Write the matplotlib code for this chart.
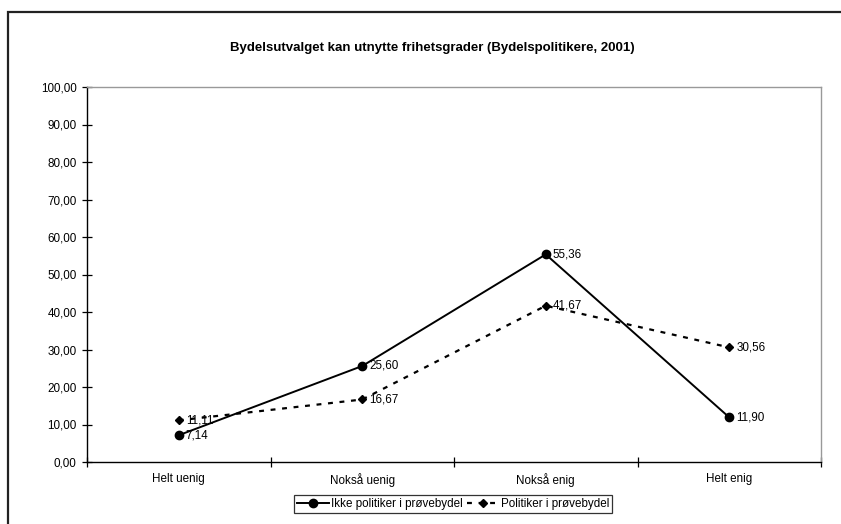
import matplotlib
matplotlib.use("Agg")
import matplotlib.pyplot as plt
from matplotlib.patches import Rectangle

categories = ["Helt uenig", "Nokså uenig", "Nokså enig", "Helt enig"]
ikke_politiker = [7.14, 25.60, 55.36, 11.90]
politiker = [11.11, 16.67, 41.67, 30.56]
series_names = ["Ikke politiker i prøvebydel", "Politiker i prøvebydel"]
title = "Bydelsutvalget kan utnytte frihetsgrader (Bydelspolitikere, 2001)"
yticks = [0, 10, 20, 30, 40, 50, 60, 70, 80, 90, 100]

plt.rcParams['font.family'] = ['Liberation Sans', 'DejaVu Sans']

FS = 8.4
W, H = 841, 524
fig = plt.figure(figsize=(W / 100, H / 100), dpi=100)
ax = fig.add_axes([87 / W, 1 - 462 / H, (821 - 87) / W, (462 - 87) / H])

xs = [i + 0.5 for i in range(len(categories))]

l1, = ax.plot(xs, ikke_politiker, color='black', lw=1.4, marker='o', markersize=6,
              label=series_names[0], zorder=3)
l2, = ax.plot(xs, politiker, color='black', lw=1.6, dashes=(2.2, 3.0), marker='D',
              markersize=4.5, label=series_names[1], zorder=3)

def fmt(v):
    return f"{v:.2f}".replace('.', ',')

for x, v in zip(xs, ikke_politiker):
    ax.annotate(fmt(v), (x, v), xytext=(5, 0), textcoords='offset points',
                va='center', ha='left', fontsize=FS)
for x, v in zip(xs, politiker):
    ax.annotate(fmt(v), (x, v), xytext=(5, 0), textcoords='offset points',
                va='center', ha='left', fontsize=FS)

ax.set_xlim(0, len(categories))
ax.set_ylim(0, 100)
ax.set_yticks(yticks)
ax.set_yticklabels([fmt(v) for v in yticks], fontsize=FS)
ax.set_xticks(range(len(categories) + 1))
ax.set_xticklabels([])
ax.set_xticks(xs, minor=True)
ax.set_xticklabels(categories, minor=True, fontsize=FS)
ax.tick_params(axis='x', which='major', direction='inout', length=7, width=0.9)
ax.tick_params(axis='x', which='minor', length=0, pad=8)
ax.tick_params(axis='y', which='major', direction='inout', length=7, width=0.9, pad=4)

for s in ['left', 'bottom']:
    ax.spines[s].set_color('black')
    ax.spines[s].set_linewidth(1.0)
for s in ['top', 'right']:
    ax.spines[s].set_color('#999999')
    ax.spines[s].set_linewidth(1.0)

fig.text(432.5 / W, 1 - 48 / H, title, ha='center', va='center',
         fontsize=9.5, fontweight='bold')

leg = fig.legend(handles=[l1, l2], loc='center', bbox_to_anchor=(453 / W, 1 - 504 / H),
                 ncol=2, fontsize=FS, frameon=True, fancybox=False,
                 handlelength=2.8, handletextpad=0.1, columnspacing=0.4,
                 borderpad=0.25, borderaxespad=0)
leg.get_frame().set_edgecolor('black')
leg.get_frame().set_linewidth(0.9)

fig.patches.append(Rectangle((8 / W, -0.2), 1.2, 1 - 12 / H + 0.2, transform=fig.transFigure,
                             fill=False, edgecolor='#222222', lw=1.6, clip_on=False))

fig.savefig("out.png", dpi=100)
